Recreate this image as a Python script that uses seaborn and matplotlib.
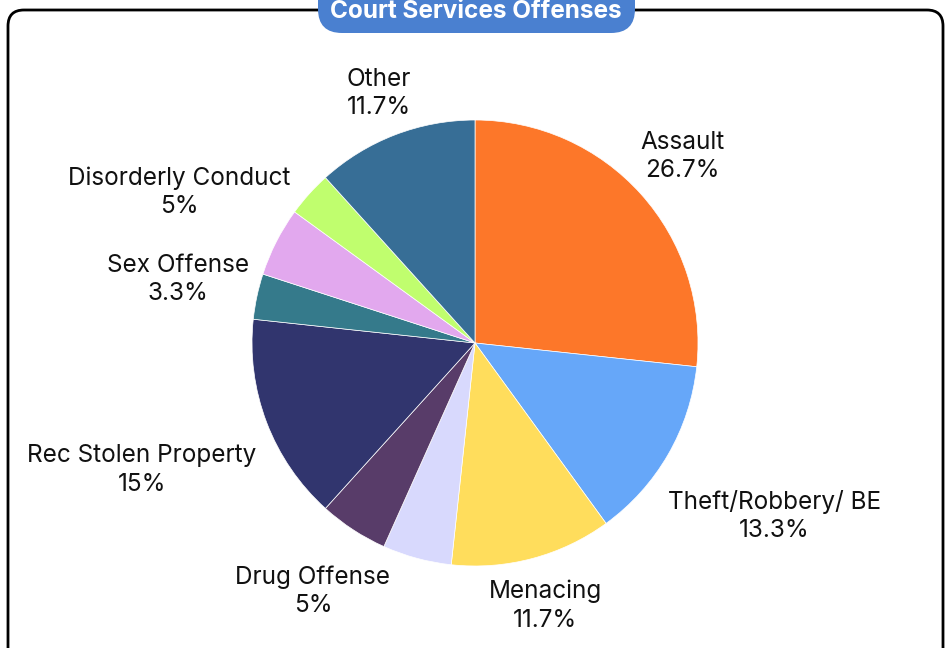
import numpy as np
import matplotlib
matplotlib.use("Agg")
import matplotlib.pyplot as plt
from matplotlib.patches import FancyBboxPatch
import seaborn as sns

# Offense categories, clockwise from the top
categories = ["Assault", "Theft/Robbery/ BE", "Menacing", "", "Drug Offense",
              "Rec Stolen Property", "Sex Offense", "Disorderly Conduct", "", "Other"]
shares = [26.7, 13.3, 11.7, 5, 5, 15, 3.3, 5, 3.3, 11.7]
colors = ["#FD7729", "#66A7F9", "#FFDD5C", "#D8D9FD", "#583C69",
          "#31356E", "#357A8B", "#E2A8EE", "#C0FE6E", "#376E96"]
# radial placement of each label, as a multiple of the pie radius
label_dist = [1.25, 1.55, 1.22, 1.3, 1.33, 1.6, 1.36, 1.49, 1.3, 1.2]

sns.set_theme(style="white")
plt.rcParams["font.family"] = ["Inter", "DejaVu Sans"]

W, H = 951, 648
fig = plt.figure(figsize=(W / 100, H / 100), dpi=100)
ax = fig.add_axes([0, 0, 1, 1])

# rounded card outline
card = FancyBboxPatch((8, -30), 935, H - 10 + 30, boxstyle="round,pad=0,rounding_size=16",
                      fc="white", ec="black", lw=2, zorder=0)
ax.add_patch(card)

cx, cy, r = 475, H - 343, 223
wedges, _ = ax.pie(shares, colors=colors, startangle=90, counterclock=False,
                   center=(cx, cy), radius=r, frame=True,
                   wedgeprops=dict(edgecolor="white", linewidth=0.5))
ax.set_xlim(0, W)
ax.set_ylim(0, H)
ax.set_aspect("equal")
ax.axis("off")

for w, name, val, d in zip(wedges, categories, shares, label_dist):
    if not name:
        continue
    mid = np.deg2rad((w.theta1 + w.theta2) / 2)
    x = cx + r * d * np.cos(mid)
    y = cy + r * d * np.sin(mid)
    ax.text(x, y, f"{name}\n{val:g}%", ha="center", va="center",
            fontsize=17.5, color="#111111", linespacing=1.3)

# title pill on the card's top edge
pill = FancyBboxPatch((318, H - 33), 317, 56, boxstyle="round,pad=0,rounding_size=24",
                      fc="#4A80D0", ec="none", zorder=5)
ax.add_patch(pill)
ax.text(476, H - 18, "Court Services Offenses", ha="center", va="baseline",
        fontsize=17.5, fontweight="bold", color="white", zorder=6)

fig.savefig("out.png", dpi=100)
